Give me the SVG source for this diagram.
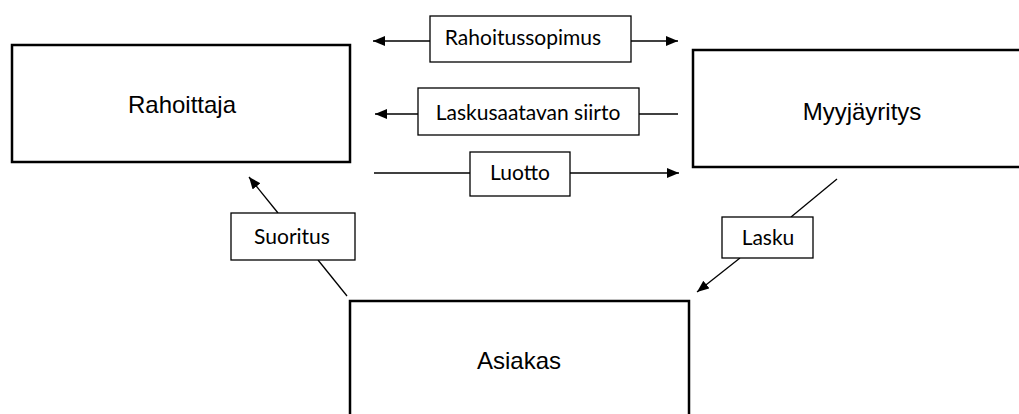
<svg xmlns="http://www.w3.org/2000/svg" width="1019" height="414" viewBox="0 0 1019 414">
<style>
.node{fill:#fff;stroke:#000;stroke-width:2.5}
.lbl{fill:#fff;stroke:#000;stroke-width:1.3}
.ntext{font-family:"Liberation Sans",Arial,sans-serif;font-size:24px;fill:#000;text-anchor:middle}
.ltext{font-family:Lato,"Open Sans",sans-serif;font-size:21px;fill:#000;text-anchor:middle}
.conn line{stroke:#000;stroke-width:1.3}
</style>
<defs>
<marker id="arr" markerUnits="userSpaceOnUse" markerWidth="14" markerHeight="12" refX="12" refY="5" orient="auto">
<path d="M0,0 L12,5 L0,10 z" fill="#000"/>
</marker>
</defs>
<rect width="1019" height="414" fill="#fff"/>
<g id="rahoittaja">
<rect class="node" x="12" y="45" width="338" height="117"/>
<text class="ntext" x="182" y="113">Rahoittaja</text>
</g>
<g id="myyjayritys">
<rect class="node" x="693" y="50" width="338" height="117"/>
<text class="ntext" x="862" y="120">Myyjäyritys</text>
</g>
<g id="asiakas">
<rect class="node" x="350" y="301" width="339" height="130"/>
<text class="ntext" x="519" y="369">Asiakas</text>
</g>
<g class="conn" id="connectors">
<line x1="430" y1="41" x2="373" y2="41" marker-end="url(#arr)"/>
<line x1="631" y1="41" x2="678" y2="41" marker-end="url(#arr)"/>
<line x1="418" y1="114" x2="375" y2="114" marker-end="url(#arr)"/>
<line x1="639" y1="114" x2="678" y2="114"/>
<line x1="374" y1="173" x2="470" y2="173"/>
<line x1="570" y1="173" x2="679" y2="173" marker-end="url(#arr)"/>
<line x1="347" y1="296" x2="318" y2="260"/>
<line x1="278" y1="213" x2="249" y2="177" marker-end="url(#arr)"/>
<line x1="837" y1="179" x2="791" y2="217"/>
<line x1="740" y1="258" x2="697" y2="292" marker-end="url(#arr)"/>
</g>
<g id="lbl-rahoitussopimus">
<rect class="lbl" x="430" y="16" width="201" height="46"/>
<text class="ltext" x="523" y="45">Rahoitussopimus</text>
</g>
<g id="lbl-laskusaatavan">
<rect class="lbl" x="418" y="88" width="221" height="47"/>
<text class="ltext" x="528" y="120">Laskusaatavan siirto</text>
</g>
<g id="lbl-luotto">
<rect class="lbl" x="470" y="152" width="100" height="44"/>
<text class="ltext" x="520" y="180">Luotto</text>
</g>
<g id="lbl-suoritus">
<rect class="lbl" x="231" y="213" width="124" height="47"/>
<text class="ltext" x="292" y="244">Suoritus</text>
</g>
<g id="lbl-lasku">
<rect class="lbl" x="722" y="217" width="91" height="41"/>
<text class="ltext" x="768" y="245">Lasku</text>
</g>
</svg>
